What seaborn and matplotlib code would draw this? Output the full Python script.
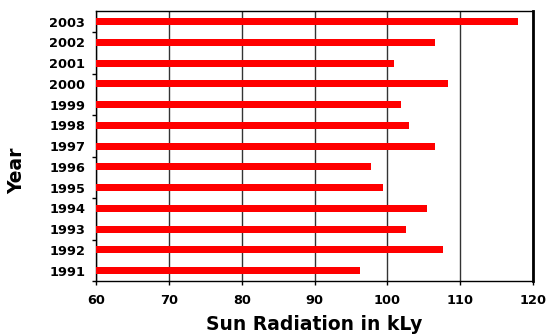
import matplotlib
matplotlib.use("Agg")
import matplotlib.pyplot as plt
import seaborn as sns
import pandas as pd
from matplotlib.ticker import FixedLocator

years = ["2003", "2002", "2001", "2000", "1999", "1998", "1997",
         "1996", "1995", "1994", "1993", "1992", "1991"]
radiation = [118.0, 106.5, 100.9, 108.3, 101.8, 103.0, 106.5,
             97.8, 99.4, 105.5, 102.6, 107.6, 96.2]
x_ticks = [60, 70, 80, 90, 100, 110, 120]

df = pd.DataFrame({"Year": years, "Radiation": radiation})

sns.set_style("white")
plt.rcParams["font.family"] = ["DejaVu Sans"]
plt.rcParams["font.weight"] = "bold"
plt.rcParams["text.color"] = "black"
plt.rcParams["axes.labelcolor"] = "black"
plt.rcParams["xtick.color"] = "black"
plt.rcParams["ytick.color"] = "black"

fig = plt.figure(figsize=(5.48, 3.35), dpi=100)
ax = fig.add_axes([0.1757, 0.1612, 0.9726 - 0.1757, 0.9663 - 0.1612])

sns.barplot(data=df, x="Radiation", y="Year", order=years, orient="h",
            color="#ff0000", saturation=1, width=0.34, linewidth=0,
            ax=ax, zorder=3)

ax.set_xlim(60, 120)
ax.set_ylim(len(years) - 0.5, -0.5)
ax.set_xticks(x_ticks)
ax.set_xticklabels([str(t) for t in x_ticks], fontsize=9.3, fontweight="bold")
ax.xaxis.grid(True, color="#333333", linewidth=1.0, zorder=0)
ax.yaxis.grid(False)
ax.set_axisbelow(True)

# labels sit on category centres; tick marks every second category boundary
ax.tick_params(axis="y", which="major", length=0, pad=8, labelsize=9.3,
               labelcolor="black")
ax.yaxis.set_minor_locator(FixedLocator([0.5 + 2 * i for i in range(7)]))
ax.tick_params(axis="y", which="minor", length=3, width=1, color="black",
               direction="out", left=True)
ax.tick_params(axis="x", which="major", length=3, width=1, color="black",
               direction="out", bottom=True, pad=6.5, labelcolor="black")
for lab in ax.get_yticklabels():
    lab.set_fontweight("bold")

for side in ["left", "bottom", "top"]:
    ax.spines[side].set_color("black")
    ax.spines[side].set_linewidth(1.0)
ax.spines["right"].set_color("black")
ax.spines["right"].set_linewidth(2.0)

ax.set_xlabel("Sun Radiation in kLy", fontsize=13.5, fontweight="bold")
ax.xaxis.set_label_coords(0.5, -0.183)
ax.xaxis.label.set_va("baseline")

ax.set_ylabel("Year", fontsize=13.5, fontweight="bold")
ax.yaxis.set_label_coords(-0.182, 0.407)
ax.yaxis.label.set_va("center")

fig.savefig("out.png", dpi=100, facecolor="white")
